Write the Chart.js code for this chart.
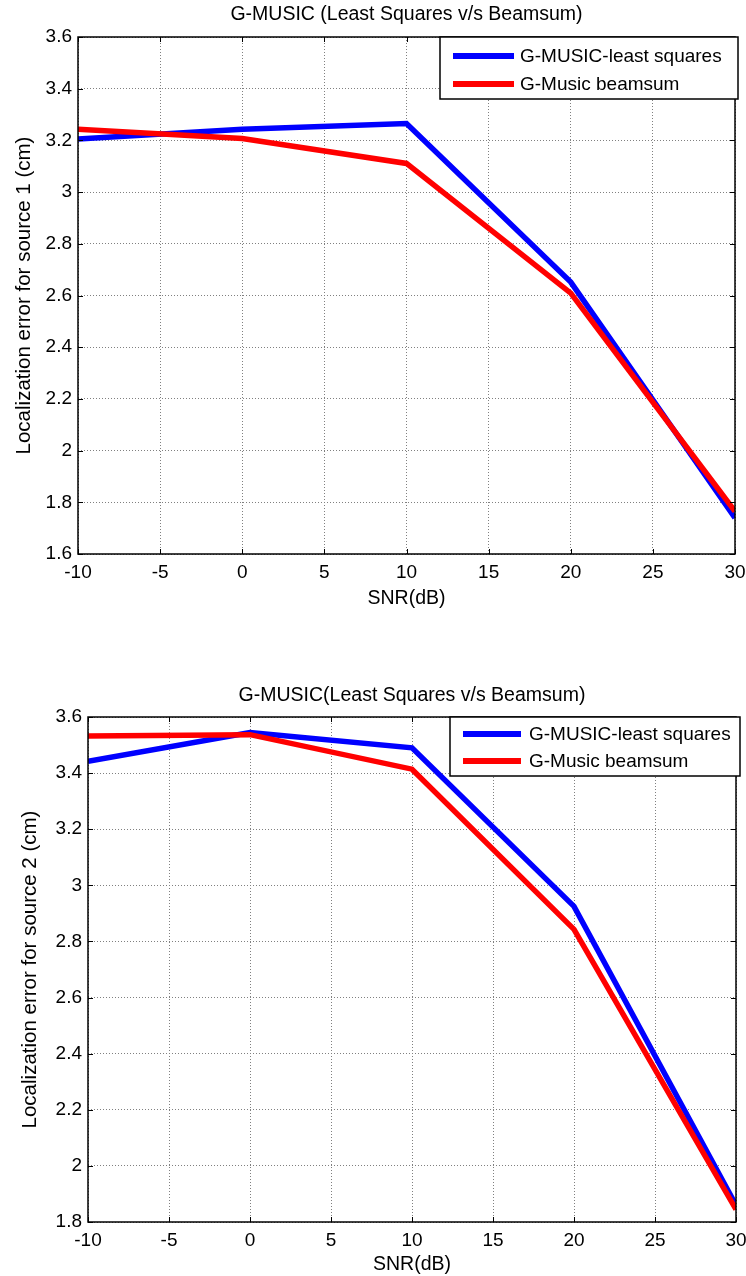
<!DOCTYPE html>
<html><head><meta charset="utf-8">
<script src="https://cdn.jsdelivr.net/npm/chart.js@4.4.1/dist/chart.umd.min.js"></script>
<style>
html,body{margin:0;padding:0;background:#fff;width:746px;height:1276px;overflow:hidden;}
#w1{position:absolute;left:0;top:0;width:746px;height:612px;}
#w2{position:absolute;left:0;top:640px;width:746px;height:636px;}
</style></head><body>
<div id="w1"><canvas id="c1"></canvas></div>
<div id="w2"><canvas id="c2"></canvas></div>
<script>
// ---- data ----
const snr = [-10, 0, 10, 20, 30];
const xTickValues = [-10, -5, 0, 5, 10, 15, 20, 25, 30];
const src1LeastSquares = [3.205, 3.243, 3.265, 2.652, 1.740];
const src1Beamsum      = [3.243, 3.207, 3.111, 2.609, 1.765];
const src2LeastSquares = [3.442, 3.545, 3.490, 2.925, 1.860];
const src2Beamsum      = [3.532, 3.537, 3.414, 2.843, 1.845];
const seriesNames = ['G-MUSIC-least squares', 'G-Music beamsum'];
const chartTitles = ['G-MUSIC (Least Squares v/s Beamsum)', 'G-MUSIC(Least Squares v/s Beamsum)'];
const yTitles = ['Localization error for source 1 (cm)', 'Localization error for source 2 (cm)'];
const xTitle = 'SNR(dB)';
const y1Range = [1.6, 3.6];
const y2Range = [1.8, 3.6];
const yStep = 0.2;

const FONT = "'Liberation Sans', Arial, Helvetica, sans-serif";
Chart.defaults.font.family = FONT;
Chart.defaults.color = '#000';

const toPts = arr => snr.map((x, i) => ({x: x, y: arr[i]}));

const framePlugin = {
  id: 'frame',
  afterDatasetsDraw(chart, args, o) {
    const {ctx, chartArea: a, scales: {x, y}} = chart;
    ctx.save();
    // title centred over the axes
    ctx.fillStyle = '#000';
    ctx.font = '19.5px ' + FONT;
    ctx.textAlign = 'center';
    ctx.textBaseline = 'middle';
    ctx.fillText(o.title, (a.left + a.right) / 2, o.titleY);
    // inward ticks
    ctx.strokeStyle = '#000';
    ctx.lineWidth = 1;
    ctx.beginPath();
    x.ticks.forEach(t => {
      const px = Math.round(x.getPixelForValue(t.value)) + 0.5;
      ctx.moveTo(px, a.bottom); ctx.lineTo(px, a.bottom - 5);
      ctx.moveTo(px, a.top); ctx.lineTo(px, a.top + 5);
    });
    y.ticks.forEach(t => {
      const py = Math.round(y.getPixelForValue(t.value)) + 0.5;
      ctx.moveTo(a.left, py); ctx.lineTo(a.left + 5, py);
      ctx.moveTo(a.right, py); ctx.lineTo(a.right - 5, py);
    });
    ctx.stroke();
    ctx.lineWidth = 1.5;
    ctx.strokeRect(a.left, a.top, a.right - a.left, a.bottom - a.top);
    // legend
    ctx.fillStyle = '#fff';
    ctx.fillRect(o.x0, a.top, o.x1 - o.x0, o.h);
    ctx.lineWidth = 1.5;
    ctx.strokeRect(o.x0, a.top, o.x1 - o.x0, o.h);
    ctx.font = '19px ' + FONT;
    ctx.textBaseline = 'middle';
    ctx.textAlign = 'left';
    chart.data.datasets.forEach((ds, i) => {
      const yy = a.top + o.rows[i];
      ctx.strokeStyle = ds.borderColor;
      ctx.lineWidth = 6;
      ctx.beginPath();
      ctx.moveTo(o.s0, yy); ctx.lineTo(o.s1, yy);
      ctx.stroke();
      ctx.fillStyle = '#000';
      ctx.fillText(ds.label, o.tx, yy + 1);
    });
    ctx.restore();
  }
};

function makeChart(id, ls, bs, title, yTitle, yr, cfg) {
  return new Chart(document.getElementById(id), {
    type: 'line',
    data: {
      datasets: [
        {label: seriesNames[0], data: toPts(ls), borderColor: '#0000ff', backgroundColor: '#0000ff', borderWidth: 5.5, pointRadius: 0, tension: 0, order: 1},
        {label: seriesNames[1], data: toPts(bs), borderColor: '#ff0000', backgroundColor: '#ff0000', borderWidth: 5.5, pointRadius: 0, tension: 0, order: 0}
      ]
    },
    options: {
      responsive: true, maintainAspectRatio: false, animation: false, devicePixelRatio: 1,
      layout: {padding: {left: 0, right: cfg.padRight, top: cfg.padTop, bottom: 0}},
      plugins: {
        legend: {display: false}, tooltip: {enabled: false}, title: {display: false},
        frame: Object.assign({title: title}, cfg.legend)
      },
      scales: {
        x: {
          type: 'linear', min: -10, max: 30,
          afterBuildTicks: s => { s.ticks = xTickValues.map(v => ({value: v})); },
          afterFit: s => { s.height = cfg.xH; s.paddingLeft = 0; s.paddingRight = 0; },
          ticks: {font: {size: 19}, color: '#000', padding: 7, maxRotation: 0, autoSkip: false},
          grid: {color: '#808080', lineWidth: 1, drawTicks: false},
          border: {display: false, dash: [1, 2]},
          title: {display: true, text: xTitle, font: {size: 19.5}, color: '#000', padding: {top: 0, bottom: cfg.xTitlePad}}
        },
        y: {
          min: yr[0], max: yr[1],
          afterFit: s => { s.width = cfg.yW; },
          ticks: {stepSize: yStep, font: {size: 19}, color: '#000', padding: 6,
                  callback: v => String(Math.round(v * 10) / 10)},
          grid: {color: '#808080', lineWidth: 1, drawTicks: false},
          border: {display: false, dash: [1, 2]},
          title: {display: true, text: yTitle, font: {size: 20.5}, color: '#000', padding: {top: cfg.yTitlePad, bottom: 0}}
        }
      }
    },
    plugins: [framePlugin]
  });
}

makeChart('c1', src1LeastSquares, src1Beamsum, chartTitles[0], yTitles[0], y1Range, {
  padRight: 11, padTop: 37, xH: 58, yW: 78, yTitlePad: 12, xTitlePad: 2,
  legend: {titleY: 15, x0: 440, x1: 738, h: 62, rows: [19, 47], s0: 453, s1: 514, tx: 520}
});
makeChart('c2', src2LeastSquares, src2Beamsum, chartTitles[1], yTitles[1], y2Range, {
  padRight: 10, padTop: 77, xH: 54, yW: 88, yTitlePad: 18, xTitlePad: 0,
  legend: {titleY: 56, x0: 450, x1: 740, h: 59, rows: [17, 44], s0: 463, s1: 521, tx: 529}
});
</script>
</body></html>
